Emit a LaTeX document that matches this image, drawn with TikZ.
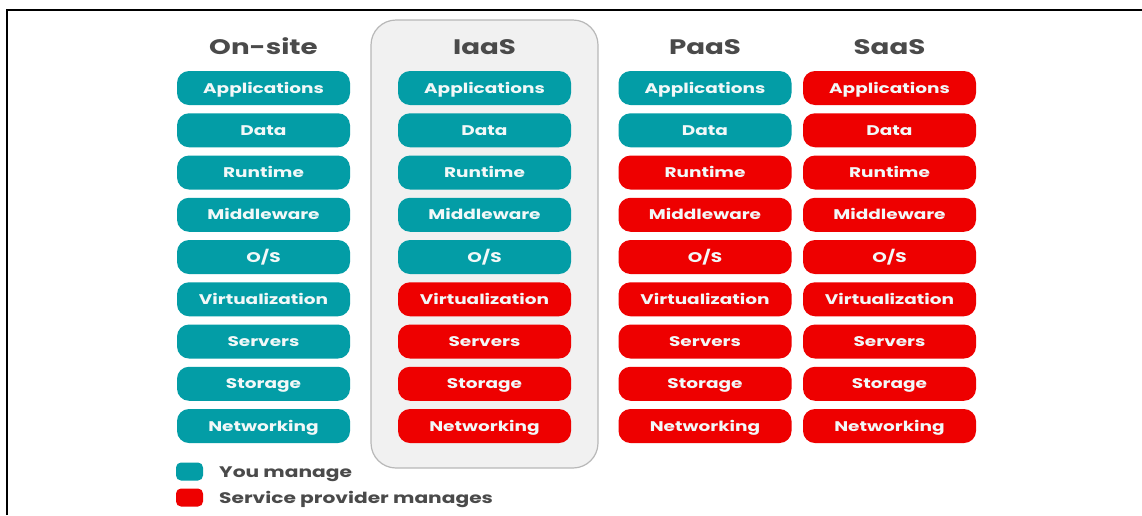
\documentclass[tikz,border=0pt]{standalone}
\usepackage{fontspec}
\setmainfont{Poppins}
\newfontfamily\widefont[FakeStretch=1.32]{Poppins}
\definecolor{teal}{HTML}{039DA6}
\definecolor{rhred}{HTML}{EE0000}
\definecolor{hdr}{HTML}{4A4A4A}
\definecolor{boxtext}{HTML}{F2F8F8}
\definecolor{panel}{HTML}{F1F1F1}
\definecolor{panelborder}{HTML}{B8B8B8}
\begin{document}
\begin{tikzpicture}[x=1pt,y=-1pt,
  layerbox/.style={rounded corners=12pt, minimum width=173pt, minimum height=34pt,
    inner sep=0pt, text height=10pt, text depth=0pt, text=boxtext,
    font=\widefont\fontsize{14}{16}\selectfont\bfseries},
  mine/.style={layerbox, fill=teal},
  prov/.style={layerbox, fill=rhred},
  colhead/.style={text=hdr, text height=15pt, text depth=0pt,
    font=\widefont\fontsize{21}{24}\selectfont\bfseries},
  legsq/.style={rounded corners=5pt, minimum width=27pt, minimum height=18pt, inner sep=0pt},
  legtext/.style={text=hdr, anchor=west, text height=11pt, text depth=0pt, inner sep=0pt,
    font=\widefont\fontsize{15.3}{18}\selectfont\bfseries}]
\useasboundingbox (0,0) rectangle (1142,515);
\fill[white] (0,0) rectangle (1142,515);
\draw[line width=2.5pt] (7,515) -- (7,10) -- (1142,10);
% IaaS panel
\draw[panelborder, fill=panel, line width=1.2pt, rounded corners=25pt] (371,20) rectangle (598,468);
% headers
\node[colhead] (hon) at (263.5,47) {On-site};
\node[colhead] (hia) at (484.5,47) {IaaS};
\node[colhead] (hpa) at (705,47) {PaaS};
\node[colhead] (hsa) at (889.5,47) {SaaS};
% rows
\foreach \lbl [count=\i from 0] in {Applications,Data,Runtime,Middleware,O/S,Virtualization,Servers,Storage,Networking}{
  \pgfmathsetmacro{\yy}{88+42.25*\i}
  \node[mine] (on\i) at (263.5,\yy) {\lbl};
  \ifnum\i<5
    \node[mine] (ia\i) at (484.5,\yy) {\lbl};
  \else
    \node[prov] (ia\i) at (484.5,\yy) {\lbl};
  \fi
  \ifnum\i<2
    \node[mine] (pa\i) at (705,\yy) {\lbl};
  \else
    \node[prov] (pa\i) at (705,\yy) {\lbl};
  \fi
  \node[prov] (sa\i) at (889.5,\yy) {\lbl};
}
% legend
\node[legsq, fill=teal] (lg1) at (189.5,471.5) {};
\node[legsq, fill=rhred] (lg2) at (189.5,497.5) {};
\node[legtext] (lt1) at (219,471.5) {You manage};
\node[legtext] (lt2) at (219,497.5) {Service provider manages};
\end{tikzpicture}
\end{document}
